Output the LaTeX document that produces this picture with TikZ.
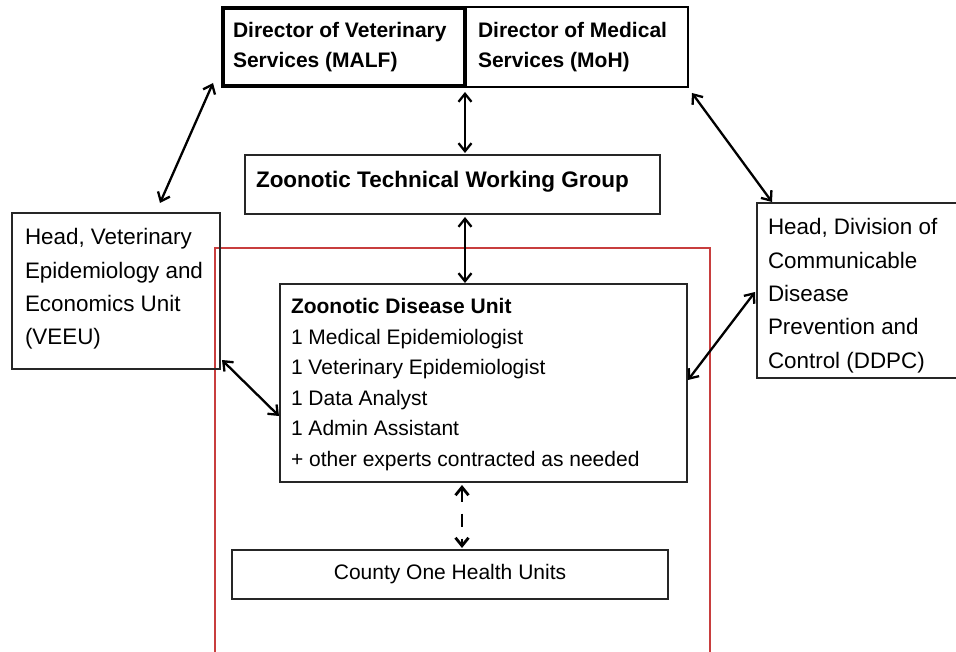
\documentclass[tikz,border=0pt]{standalone}
\usepackage{fontspec}
\setmainfont{Liberation Sans}
\usetikzlibrary{arrows.meta,calc}
\newcommand\boxtxt[4]{\parbox[c][#1][t]{#2}{\vspace*{#3}\raggedright #4\par}}
\definecolor{frame}{RGB}{200,62,62}
\tikzset{
  box/.style={draw=black!85, line width=1.5pt, inner sep=0pt, outer sep=0pt, anchor=north west},
  bi/.style={line width=2.3pt, {Straight Barb[length=8pt,width=13pt]}-{Straight Barb[length=8pt,width=13pt]}},
  redbox/.style={draw=frame, line width=1.5pt, inner sep=0pt, outer sep=0pt, anchor=north west},
}
\begin{document}
\begin{tikzpicture}[x=1pt,y=-1pt]
\useasboundingbox (0,0) rectangle (956,652);
\clip (0,0) rectangle (956,652);
\fill[white] (0,0) rectangle (956,652);

% red group frame
\node[redbox, minimum width=495pt, minimum height=420pt] (grp) at (215,248) {};

% top boxes
\node[box, draw=black, line width=2.5pt, minimum width=223pt, minimum height=80pt] (moh) at (465,7)
  {\boxtxt{80pt}{197pt}{15.7pt}{\fontsize{21}{30}\selectfont\bfseries Director of Medical\\Services (MoH)}};
\node[box, draw=black, line width=4pt, minimum width=242pt, minimum height=78pt] (malf) at (223,8)
  {\boxtxt{78pt}{222pt}{14.7pt}{\fontsize{21}{30}\selectfont\bfseries Director of Veterinary\\Services (MALF)}};

% working group
\node[box, minimum width=415pt, minimum height=59pt] (ztwg) at (245,155)
  {\boxtxt{59pt}{393pt}{15.7pt}{\fontsize{22.5}{30}\selectfont\bfseries Zoonotic Technical Working Group}};

% side boxes
\node[box, minimum width=208pt, minimum height=156pt] (veeu) at (12,213)
  {\boxtxt{156pt}{182pt}{15.7pt}{\fontsize{22.4}{33.3}\selectfont Head, Veterinary\\\makebox[178pt][s]{Epidemiology and}\\Economics Unit\\(VEEU)}};
\node[box, minimum width=203pt, minimum height=175pt] (ddpc) at (757,203)
  {\boxtxt{175pt}{181pt}{15.7pt}{\fontsize{22.4}{33.3}\selectfont Head, Division of\\Communicable\\Disease\\Prevention and\\Control (DDPC)}};

% zoonotic disease unit
\node[box, minimum width=407pt, minimum height=198pt] (zdu) at (280,284)
  {\boxtxt{198pt}{385pt}{14.7pt}{\fontsize{21}{30.5}\selectfont {\bfseries Zoonotic Disease Unit}\\1 Medical Epidemiologist\\1 Veterinary Epidemiologist\\1 Data Analyst\\1 Admin Assistant\\+ other experts contracted as needed}};

% county
\node[box, minimum width=436pt, minimum height=49pt] (county) at (232,550)
  {\fontsize{21}{25}\selectfont County One Health Units};

% connectors
\draw[bi] ($(malf.south west)+(-10,-3)$) -- ($(veeu.north)+(44,-10)$);
\draw[bi] ($(malf.south east)+(0,6)$) -- ($(malf.south east |- ztwg.north)+(0,-2)$);
\draw[bi] ($(malf.south east |- ztwg.south)+(0,3)$) -- ($(malf.south east |- zdu.north)+(0,-1)$);
\draw[bi] ($(moh.south east)+(4,6)$) -- ($(ddpc.north west)+(15,-1)$);
\draw[bi] ($(veeu.south east)+(2,-9)$) -- ($(zdu.west)+(-1,33)$);
\draw[bi] ($(ddpc.west)+(-2,1.5)$) -- ($(zdu.east)+(1,-3)$);
\draw[bi, line width=2.8pt, dash pattern=on 13pt off 12pt] ($(zdu.south)+(-21.5,3)$) -- ($(zdu.south |- county.north)+(-21.5,-2)$);
\end{tikzpicture}
\end{document}
